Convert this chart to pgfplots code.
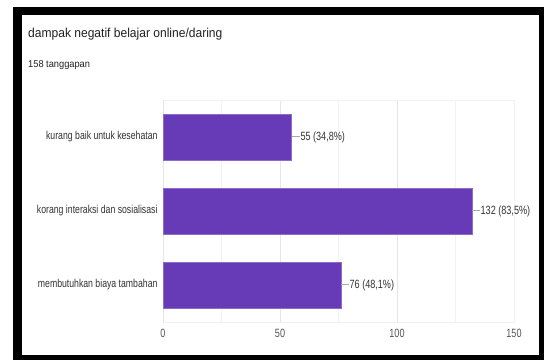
\documentclass[border=0pt]{standalone}
\usepackage{pgfplots}
\pgfplotsset{compat=1.18}
\usepackage{fontspec}
\setmainfont{Liberation Sans}
\newfontfamily\narrowfont{Liberation Sans}[FakeStretch=0.76]
\newfontfamily\titlefont{Liberation Sans}[FakeStretch=0.93]
\definecolor{barpurple}{HTML}{673AB7}
\definecolor{baredge}{HTML}{8E6CCB}
\definecolor{titlecol}{HTML}{212121}
\definecolor{labcol}{HTML}{333333}
\definecolor{tickcol}{HTML}{555555}
\definecolor{gridmaj}{HTML}{E6E6E6}
\definecolor{gridmin}{HTML}{F2F2F2}
\definecolor{axcol}{HTML}{AAAAAA}
\begin{document}
\begin{tikzpicture}
\path[use as bounding box] (0,0) rectangle (544bp,360bp);
\fill[black] (13bp,0) rectangle (544bp,353bp);
\fill[white] (21.5bp,5bp) rectangle (539bp,345bp);
\node[anchor=base west, font=\titlefont\fontsize{13}{15}\selectfont, text=titlecol, inner sep=0] at (28bp,322bp) {dampak negatif belajar online/daring};
\node[anchor=base west, font=\titlefont\fontsize{10}{12}\selectfont, text=titlecol, inner sep=0] at (28bp,292bp) {158 tanggapan};
\begin{axis}[
  at={(163bp,38bp)}, anchor=south west,
  scale only axis, width=351bp, height=222bp,
  xbar, bar width=46bp,
  xmin=0, xmax=150, ymin=0.5, ymax=3.5, y dir=reverse,
  ytick={1,2,3},
  yticklabels={kurang baik untuk kesehatan, korang interaksi dan sosialisasi, membutuhkan biaya tambahan},
  xtick={0,50,100,150}, minor xtick={25,75,125},
  xmajorgrids, xminorgrids,
  major grid style={draw=gridmaj, line width=0.8bp},
  minor grid style={draw=gridmin, line width=0.8bp},
  extra x ticks={0}, extra x tick labels={},
  extra x tick style={grid style={draw=axcol, line width=1.2bp}},
  axis line style={draw=gridmin},
  major tick length=0, minor tick length=0,
  /pgf/number format/assume math mode=true,
  xticklabel style={font=\narrowfont\fontsize{12}{13}\selectfont, text=tickcol, yshift=-4bp},
  yticklabel style={font=\narrowfont\fontsize{11.5}{13}\selectfont, text=labcol, xshift=-2bp},
  point meta=explicit symbolic,
  nodes near coords={\textcolor{axcol}{\rule[0.3em]{8bp}{0.6bp}}\hspace{0.5bp}\pgfplotspointmeta},
  nodes near coords align={horizontal},
  every node near coord/.append style={anchor=west, inner sep=0pt, font=\narrowfont\fontsize{12}{13}\selectfont, text=labcol},
]
\addplot[fill=barpurple, draw=baredge, line width=0.6bp] coordinates {
  (55,1) [55 (34,8\%)]
  (132,2) [132 (83,5\%)]
  (76,3) [76 (48,1\%)]
};
\end{axis}
\end{tikzpicture}
\end{document}
